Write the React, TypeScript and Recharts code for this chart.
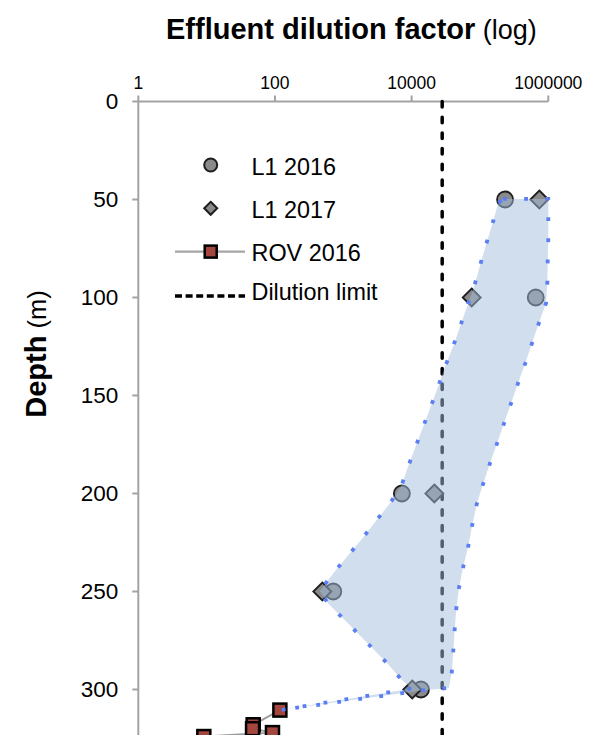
import React from 'react';
import { ComposedChart, XAxis, YAxis, Scatter, Legend } from 'recharts';

const FONT = '"Liberation Sans", Arial, Helvetica, sans-serif';

// ---- data (depth in m, dilution factor) ----
const l1y2016Depth = [50, 100, 200, 250, 300];
const l1y2016Factor = [233000, 655000, 7200, 714, 13700];

const l1y2017Depth = [50, 100, 200, 250, 300];
const l1y2017Factor = [739000, 75700, 21500, 493, 10200];

const rov2016Depth = [310.5, 318, 320, 322, 324];
const rov2016Factor = [118, 48, 47, 92, 9.1];

const dilutionLimit = 28000;
const dilutionDepths = [0, 350];

// envelope (shaded range) outline, clockwise from the top-left corner
const envelopeDepth = [
  49.7, 49.7, 58.9, 70.2, 80.9, 91.6, 102.7, 112.9, 123.1, 133.6, 143.8, 154.0,
  164.2, 174.4, 184.6, 195.2, 205.5, 216.1, 226.8, 237.3, 248.1, 258.9, 269.6,
  280.4, 291.4, 299.2, 300.5, 310.5, 299.5, 295.2, 286.5, 263.7, 256.0, 249.7,
  239.0, 230.9, 222.3, 213.5, 205.0, 195.7, 186.0, 155.4, 145.2, 135.3, 124.7,
  114.9, 104.3, 94.1, 83.8, 72.9, 62.5, 51.9, 49.7,
];
const envelopeFactor = [
  217000, 1000000, 1000000, 1000000, 980000, 970000, 930000, 730000, 580000,
  460000, 360000, 285000, 225000, 178000, 140000, 111000, 89600, 77000, 67500,
  57000, 49300, 45000, 42600, 40700, 38600, 35000, 14000, 118, 10200, 7200,
  4360, 990, 597, 453, 780, 1225, 1960, 3080, 4830, 7150, 8940, 19200, 24600,
  30800, 40700, 51000, 65300, 82600, 100000, 123000, 152000, 185000, 217000,
];

const xTicks = [1, 100, 10000, 1000000];
const yTicks = [0, 50, 100, 150, 200, 250, 300];
const legendLabels = ['L1 2016', 'L1 2017', 'ROV 2016', 'Dilution limit'];

const toPoints = (depths: number[], factors: number[]) =>
  depths.map((d, i) => ({ x: factors[i], y: d }));

const l1y2016Data = toPoints(l1y2016Depth, l1y2016Factor);
const l1y2017Data = toPoints(l1y2017Depth, l1y2017Factor);
const rov2016Data = toPoints(rov2016Depth, rov2016Factor);
const dilutionData = dilutionDepths.map((d) => ({ x: dilutionLimit, y: d }));
const envelopeData = toPoints(envelopeDepth, envelopeFactor);

// ---- styles ----
const AXIS_GREY = '#a3a3a3';
const MARKER_FILL = '#8a8a8a';
const MARKER_STROKE = '#1e1e1e';
const ROV_FILL = '#a5463e';

const CircleMarker = (p: any) => (
  <circle cx={p.cx} cy={p.cy} r={8} fill={MARKER_FILL} stroke={MARKER_STROKE} strokeWidth={1.8} />
);
const DiamondMarker = (p: any) => {
  const h = 9;
  return (
    <polygon
      points={`${p.cx},${p.cy - h} ${p.cx + h},${p.cy} ${p.cx},${p.cy + h} ${p.cx - h},${p.cy}`}
      fill={MARKER_FILL}
      stroke={MARKER_STROKE}
      strokeWidth={1.8}
    />
  );
};
const SquareMarker = (p: any) => (
  <rect x={p.cx - 6.5} y={p.cy - 6.5} width={13} height={13} fill={ROV_FILL} stroke="#000" strokeWidth={2.5} />
);
const NoMarker = () => <g />;

const renderTitle = () => (
  <text x={166} y={38.5} fontFamily={FONT} fill="#000" textAnchor="start">
    <tspan fontWeight="bold" fontSize={29}>Effluent dilution factor</tspan>
    <tspan fontSize={27}>{' (log)'}</tspan>
  </text>
);

const renderDepthLabel = () => {
  const cx = 46;
  const cy = 354;
  return (
    <text x={cx} y={cy} transform={`rotate(-90 ${cx} ${cy})`} textAnchor="middle" fontFamily={FONT} fill="#000">
      <tspan fontWeight="bold" fontSize={29}>Depth</tspan>
      <tspan fontSize={25.5}>{' (m)'}</tspan>
    </text>
  );
};

const renderLegend = () => (
  <svg width={240} height={180} style={{ display: 'block', overflow: 'visible' }}>
    {legendLabels.map((label, i) => {
      const my = 25 + i * 43.3 + (i === 3 ? 1 : 0);
      const mx = 50.7;
      let marker: React.ReactNode = null;
      if (i === 0) {
        marker = <circle cx={mx} cy={my} r={6.5} fill={MARKER_FILL} stroke={MARKER_STROKE} strokeWidth={2} />;
      } else if (i === 1) {
        const h = 6.5;
        marker = (
          <polygon
            points={`${mx},${my - h} ${mx + h},${my} ${mx},${my + h} ${mx - h},${my}`}
            fill={MARKER_FILL}
            stroke={MARKER_STROKE}
            strokeWidth={2}
          />
        );
      } else if (i === 2) {
        marker = (
          <g>
            <line x1={15} x2={85} y1={my} y2={my} stroke="#a6a6a6" strokeWidth={2.2} />
            <rect x={mx - 6} y={my - 6} width={12} height={12} fill={ROV_FILL} stroke="#000" strokeWidth={2.5} />
          </g>
        );
      } else {
        marker = <line x1={15} x2={85} y1={my} y2={my} stroke="#000" strokeWidth={3.5} strokeDasharray="7 3.6" />;
      }
      return (
        <g key={label}>
          {marker}
          <text x={91.5} y={my + (i === 3 ? 4.5 : 9.8)} fontSize={23.4} fontFamily={FONT} fill="#000">
            {label}
          </text>
        </g>
      );
    })}
  </svg>
);

export default function App() {
  return (
    <div
      style={{
        position: 'absolute',
        left: 0,
        top: 0,
        width: 591,
        height: 735,
        overflow: 'hidden',
        background: '#fff',
      }}
    >
      <ComposedChart
        width={591}
        height={788}
        margin={{ top: 71.5, right: 42.7, bottom: 0.5, left: 78.3 }}
        style={{ fontFamily: FONT }}
      >
        <XAxis
          dataKey="x"
          type="number"
          scale="log"
          domain={[1, 1000000]}
          ticks={xTicks}
          interval={0}
          orientation="top"
          height={30}
          axisLine={{ stroke: AXIS_GREY, strokeWidth: 2 }}
          tickLine={{ stroke: AXIS_GREY, strokeWidth: 2 }}
          tickSize={6}
          tickMargin={7}
          tick={{ fontSize: 17.5, fill: '#000', fontFamily: FONT }}
          label={{ content: renderTitle }}
        />
        <YAxis
          dataKey="y"
          type="number"
          domain={[0, 350]}
          reversed
          ticks={yTicks}
          interval={0}
          width={60}
          axisLine={{ stroke: AXIS_GREY, strokeWidth: 2 }}
          tickLine={{ stroke: AXIS_GREY, strokeWidth: 2 }}
          tickSize={6}
          tickMargin={14}
          tick={{ fontSize: 22.5, fill: '#000', fontFamily: FONT }}
          label={{ content: renderDepthLabel }}
        />
        <Legend
          layout="vertical"
          align="center"
          verticalAlign="middle"
          content={renderLegend}
          wrapperStyle={{ left: 160, top: 140, width: 240, height: 180 }}
        />
        <Scatter
          name="Dilution limit"
          data={dilutionData}
          shape={NoMarker}
          line={{ stroke: '#000', strokeWidth: 3.5, strokeDasharray: '5.5 10.2', strokeLinecap: 'round' }}
          lineType="joint"
          lineJointType="linear"
          isAnimationActive={false}
        />
        <Scatter name="L1 2016" data={l1y2016Data} shape={CircleMarker} isAnimationActive={false} />
        <Scatter name="L1 2017" data={l1y2017Data} shape={DiamondMarker} isAnimationActive={false} />
        <Scatter
          name="ROV 2016"
          data={rov2016Data}
          shape={SquareMarker}
          line={{ stroke: '#9d9d9d', strokeWidth: 2 }}
          lineType="joint"
          lineJointType="linear"
          isAnimationActive={false}
        />
        <Scatter
          name="Range"
          data={envelopeData}
          shape={NoMarker}
          line={{
            fill: '#a1bddd',
            fillOpacity: 0.5,
            stroke: '#5b7ef2',
            strokeWidth: 3.8,
            strokeDasharray: '3.8 17.4',
          }}
          lineType="joint"
          lineJointType="linear"
          isAnimationActive={false}
        />
      </ComposedChart>
    </div>
  );
}
